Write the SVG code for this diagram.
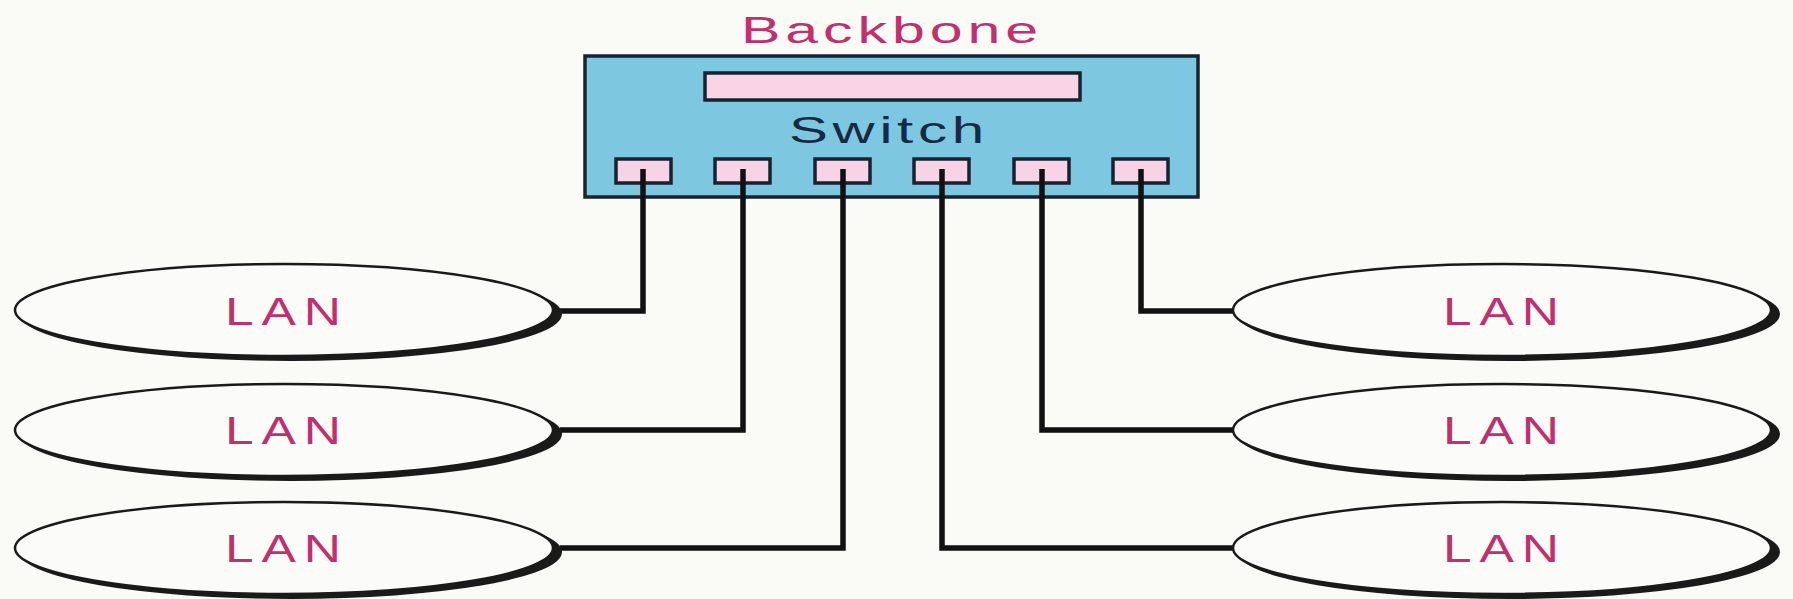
<svg xmlns="http://www.w3.org/2000/svg" width="1793" height="599" viewBox="0 0 1793 599">
<style>
.bg{fill:#fafaf7}
.lan-shadow{fill:#1a1a1a}
.lan{fill:#fbfbf9;stroke:#1a1a1a;stroke-width:2.5}
.lbl{font-family:"Liberation Sans","DejaVu Sans",sans-serif;fill:#c2306c;font-size:39px;letter-spacing:6px}
.wire{fill:none;stroke:#111;stroke-width:5.5;stroke-linejoin:miter}
.port{fill:#f6d4e6;stroke:#162330;stroke-width:3.5}
</style>
<rect class="bg" x="0" y="0" width="1793" height="599"/>
<text x="741" y="43" font-family="Liberation Sans,DejaVu Sans,sans-serif" font-size="36" fill="#c2306c" letter-spacing="3" textLength="302" lengthAdjust="spacingAndGlyphs">Backbone</text>
<g id="switch">
<rect x="585" y="56" width="613" height="141" fill="#7ec7e1" stroke="#17242f" stroke-width="3.5"/>
<rect x="705" y="73" width="375" height="27" fill="#f8d4e4" stroke="#17242f" stroke-width="3.5"/>
<text x="789" y="143" font-family="Liberation Sans,DejaVu Sans,sans-serif" font-size="37" fill="#182a40" letter-spacing="3" textLength="200" lengthAdjust="spacingAndGlyphs">Switch</text>
<rect class="port" x="616" y="159" width="55" height="24"/>
<rect class="port" x="715" y="159" width="55" height="24"/>
<rect class="port" x="815" y="159" width="55" height="24"/>
<rect class="port" x="914" y="159" width="55" height="24"/>
<rect class="port" x="1014" y="159" width="55" height="24"/>
<rect class="port" x="1113" y="159" width="55" height="24"/>
</g>
<g id="connectors">
<path class="wire" d="M643 169 V311 H560"/>
<path class="wire" d="M743 169 V430 H560"/>
<path class="wire" d="M843 169 V548 H560"/>
<path class="wire" d="M942 169 V548 H1236"/>
<path class="wire" d="M1042 169 V430 H1236"/>
<path class="wire" d="M1141 169 V311 H1236"/>
</g>
<g id="lan-l1">
<ellipse class="lan-shadow" cx="291" cy="314" rx="271" ry="47"/>
<ellipse class="lan" cx="284" cy="310" rx="269" ry="46"/>
<text class="lbl" x="225" y="325" textLength="124" lengthAdjust="spacingAndGlyphs">LAN</text>
</g>
<g id="lan-l2">
<ellipse class="lan-shadow" cx="291" cy="434" rx="271" ry="47"/>
<ellipse class="lan" cx="284" cy="430" rx="269" ry="46"/>
<text class="lbl" x="225" y="444" textLength="124" lengthAdjust="spacingAndGlyphs">LAN</text>
</g>
<g id="lan-l3">
<ellipse class="lan-shadow" cx="291" cy="552" rx="271" ry="47"/>
<ellipse class="lan" cx="284" cy="548" rx="269" ry="46"/>
<text class="lbl" x="225" y="562" textLength="124" lengthAdjust="spacingAndGlyphs">LAN</text>
</g>
<g id="lan-r1">
<ellipse class="lan-shadow" cx="1509" cy="314" rx="271" ry="47"/>
<ellipse class="lan" cx="1502" cy="310" rx="269" ry="46"/>
<text class="lbl" x="1443" y="325" textLength="124" lengthAdjust="spacingAndGlyphs">LAN</text>
</g>
<g id="lan-r2">
<ellipse class="lan-shadow" cx="1509" cy="434" rx="271" ry="47"/>
<ellipse class="lan" cx="1502" cy="430" rx="269" ry="46"/>
<text class="lbl" x="1443" y="444" textLength="124" lengthAdjust="spacingAndGlyphs">LAN</text>
</g>
<g id="lan-r3">
<ellipse class="lan-shadow" cx="1509" cy="552" rx="271" ry="47"/>
<ellipse class="lan" cx="1502" cy="548" rx="269" ry="46"/>
<text class="lbl" x="1443" y="562" textLength="124" lengthAdjust="spacingAndGlyphs">LAN</text>
</g>
</svg>
